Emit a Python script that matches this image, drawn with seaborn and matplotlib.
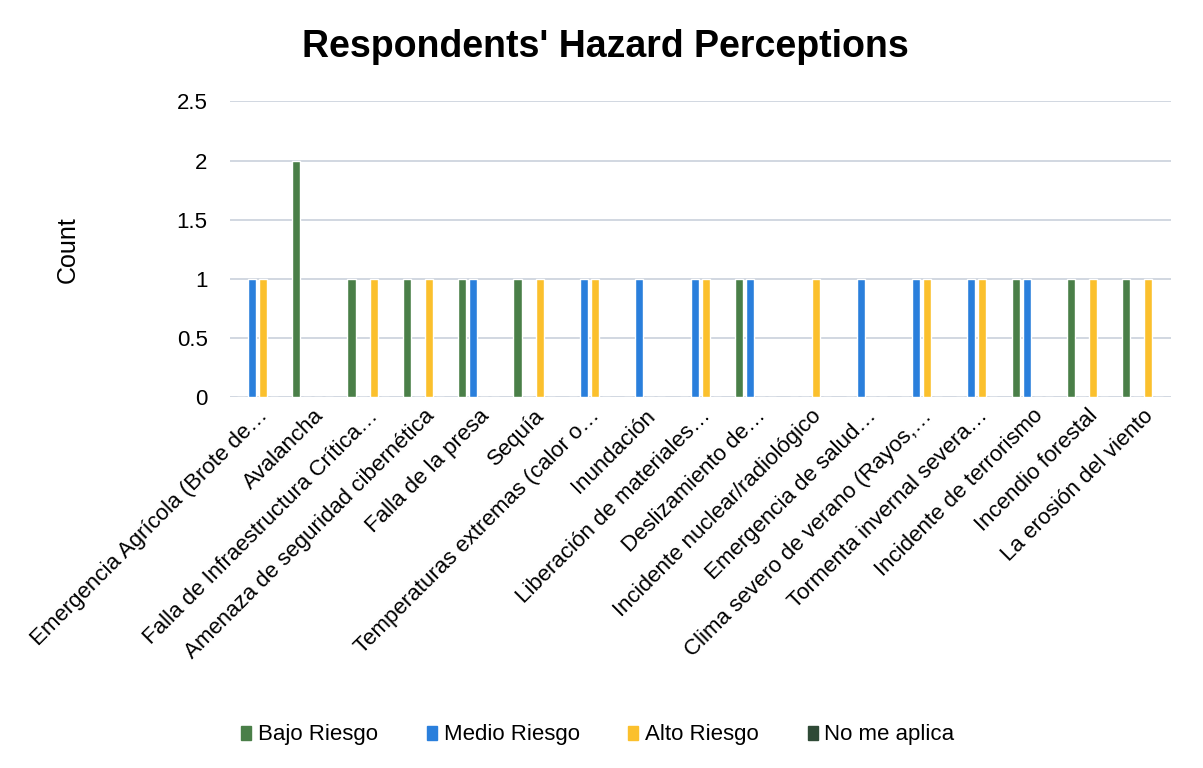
import matplotlib
matplotlib.use("Agg")
import matplotlib.pyplot as plt
import pandas as pd
import seaborn as sns

categories = [
    "Emergencia Agrícola (Brote de…",
    "Avalancha",
    "Falla de Infraestructura Crítica…",
    "Amenaza de seguridad cibernética",
    "Falla de la presa",
    "Sequía",
    "Temperaturas extremas (calor o…",
    "Inundación",
    "Liberación de materiales…",
    "Deslizamiento de…",
    "Incidente nuclear/radiológico",
    "Emergencia de salud…",
    "Clima severo de verano (Rayos,…",
    "Tormenta invernal severa…",
    "Incidente de terrorismo",
    "Incendio forestal",
    "La erosión del viento",
]
bajo = [0, 2, 1, 1, 1, 1, 0, 0, 0, 1, 0, 0, 0, 0, 1, 1, 1]
medio = [1, 0, 0, 0, 1, 0, 1, 1, 1, 1, 0, 1, 1, 1, 1, 0, 0]
alto = [1, 0, 1, 1, 0, 1, 1, 0, 1, 0, 1, 0, 1, 1, 0, 1, 1]
no_aplica = [0] * 17

series = ["Bajo Riesgo", "Medio Riesgo", "Alto Riesgo", "No me aplica"]
colors = ["#4a7f48", "#2a7fdc", "#fbc02d", "#2f4a36"]

rows = []
for name, vals in zip(series, [bajo, medio, alto, no_aplica]):
    for cat, v in zip(categories, vals):
        rows.append({"Hazard": cat, "Level": name, "Count": v})
df = pd.DataFrame(rows)

sns.set_style("white")
plt.rcParams["font.family"] = ["Liberation Sans", "DejaVu Sans"]
plt.rcParams["text.color"] = "black"
plt.rcParams["xtick.color"] = "black"
plt.rcParams["ytick.color"] = "black"
plt.rcParams["axes.labelcolor"] = "black"

fig = plt.figure(figsize=(12.03, 7.68), dpi=100)
ax = fig.add_axes([0.191, 0.483, 0.782, 0.385])

sns.barplot(data=df, x="Hazard", y="Count", hue="Level", hue_order=series,
            palette=colors, order=categories, width=0.8, gap=0.27,
            saturation=1, ax=ax, legend=False)

ax.set_ylim(0, 2.5)
ax.set_yticks([0, 0.5, 1, 1.5, 2, 2.5])
ax.set_yticklabels(["0", "0.5", "1", "1.5", "2", "2.5"], fontsize=16)
ax.yaxis.grid(True, color="#c9d1dc", linewidth=1.2)
ax.set_axisbelow(True)
for s in ax.spines.values():
    s.set_visible(False)
ax.tick_params(axis="both", length=0)
ax.tick_params(axis="y", pad=16)
ax.set_xlabel("")
ax.set_ylabel("Count", fontsize=18, labelpad=70)
ax.set_xticks(range(len(categories)))
ax.set_xticklabels(categories, rotation=45, ha="right",
                   rotation_mode="anchor", fontsize=16)
ax.tick_params(axis="x", pad=6)

fig.suptitle("Respondents' Hazard Perceptions", fontsize=27,
             fontweight="bold", x=0.503, y=0.962)

handles = [plt.Rectangle((0, 0), 1, 1, color=c) for c in colors]
fig.legend(handles, series, loc="center", bbox_to_anchor=(0.497, 0.043),
           ncol=4, frameon=False, fontsize=16, handlelength=0.45,
           handleheight=0.6, handletextpad=0.3, columnspacing=2.2)

fig.savefig("out.png", dpi=100)
